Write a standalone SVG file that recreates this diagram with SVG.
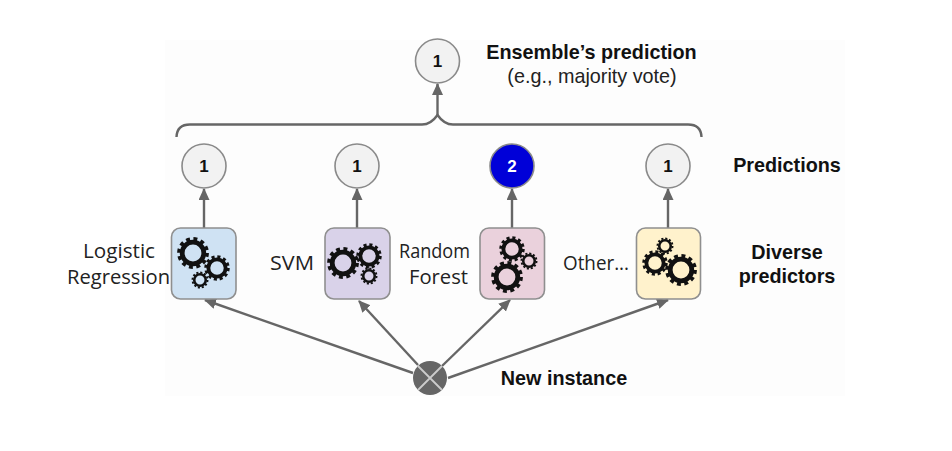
<svg xmlns="http://www.w3.org/2000/svg" width="952" height="451" viewBox="0 0 952 451">
<style>
.b{font:bold 19.800px "Liberation Sans",Arial,sans-serif;fill:#111;text-anchor:middle}
.r{font:19.800px "Liberation Sans",Arial,sans-serif;fill:#222;text-anchor:middle}
.l{font:20px "Open Sans","Noto Sans",sans-serif;fill:#222;text-anchor:middle}
.n{fill:#f2f2f2;stroke:#8a8a8a;stroke-width:1.6}
.t{font:bold 17px "Liberation Sans",Arial,sans-serif;fill:#111;text-anchor:middle}
.box{stroke:#8f8f8f;stroke-width:1.6}
.c{fill:none;stroke:#666;stroke-width:2.4}
</style>
<defs>
<marker id="a" markerUnits="userSpaceOnUse" markerWidth="13" markerHeight="12" refX="11" refY="5.500" orient="auto"><path d="M0 0L12 5.500L0 11Z" fill="#666"/></marker>
<g id="gear"><circle r="7.200" fill="none" stroke="#111" stroke-width="3.200"/><circle r="9.400" fill="none" stroke="#111" stroke-width="2.400" stroke-dasharray="2.600 2.322"/></g>
</defs>
<rect x="165" y="40" width="680" height="356" fill="#fdfdfd"/>
<g id="connectors">
<path class="c" d="M176.500 137Q177 124.500 190 124.500H422Q431 124.500 437.500 115Q444 124.500 453 124.500H688Q701 124.500 701.500 137"/>
<path class="c" marker-end="url(#a)" d="M437.500 115V84"/>
<path class="c" marker-end="url(#a)" d="M204 228V189"/>
<path class="c" marker-end="url(#a)" d="M357 228V189"/>
<path class="c" marker-end="url(#a)" d="M512 228V189"/>
<path class="c" marker-end="url(#a)" d="M668 228V189"/>
<path class="c" marker-end="url(#a)" d="M413 373L205 300"/>
<path class="c" marker-end="url(#a)" d="M418 365L359 301"/>
<path class="c" marker-end="url(#a)" d="M442 366L510 300"/>
<path class="c" marker-end="url(#a)" d="M448 378L668 300"/>
</g>
<g id="ensemble"><circle class="n" cx="437.500" cy="61" r="22"/><text class="t" x="437.500" y="67">1</text></g>
<g id="ensemble-label"><text class="b" x="591.500" y="59">Ensemble’s prediction</text><text class="r" x="592" y="83">(e.g., majority vote)</text></g>
<g id="p1"><circle class="n" cx="204" cy="166" r="22"/><text class="t" x="204" y="172">1</text></g>
<g id="p2"><circle class="n" cx="357" cy="166" r="22"/><text class="t" x="357" y="172">1</text></g>
<g id="p3"><circle cx="512" cy="166" r="22" fill="#0000d8" stroke="#8a8a8a" stroke-width="1.600"/><text class="t" x="512" y="172" style="fill:#fff">2</text></g>
<g id="p4"><circle class="n" cx="668" cy="166" r="22"/><text class="t" x="668" y="172">1</text></g>
<g id="predictions-label"><text class="b" x="787" y="172">Predictions</text></g>
<g id="logistic"><rect class="box" x="171.500" y="228" width="64.500" height="71" rx="9" fill="#cfe2f3"/>
<use href="#gear" transform="translate(193 253) scale(1.500)"/><use href="#gear" transform="translate(217 268) scale(1.200)"/><use href="#gear" transform="translate(200 280) scale(.8)"/>
<text class="l" x="119" y="258" textLength="72" lengthAdjust="spacingAndGlyphs">Logistic</text><text class="l" x="118.500" y="284" textLength="103" lengthAdjust="spacingAndGlyphs">Regression</text></g>
<g id="svm"><rect class="box" x="325" y="228" width="65" height="71" rx="9" fill="#d9d2e9"/>
<use href="#gear" transform="translate(343 263) scale(1.500)"/><use href="#gear" transform="translate(369 256) scale(1.200)"/><use href="#gear" transform="translate(369 276) scale(.8)"/>
<text class="l" x="292" y="270" textLength="44" lengthAdjust="spacingAndGlyphs">SVM</text></g>
<g id="forest"><rect class="box" x="480" y="228" width="64.500" height="71" rx="9" fill="#ead1dc"/>
<use href="#gear" transform="translate(512 249) scale(1.200)"/><use href="#gear" transform="translate(529 261) scale(.8)"/><use href="#gear" transform="translate(507 277) scale(1.500)"/>
<text class="l" x="434.500" y="258" textLength="71" lengthAdjust="spacingAndGlyphs">Random</text><text class="l" x="438.500" y="284" textLength="59" lengthAdjust="spacingAndGlyphs">Forest</text></g>
<g id="other"><rect class="box" x="636.500" y="228" width="64" height="71" rx="9" fill="#fff2cc"/>
<use href="#gear" transform="translate(665 246) scale(.8)"/><use href="#gear" transform="translate(655 263) scale(1.200)"/><use href="#gear" transform="translate(681 270) scale(1.500)"/>
<text class="l" x="596" y="270" textLength="66" lengthAdjust="spacingAndGlyphs">Other...</text></g>
<g id="diverse-label"><text class="b" x="787" y="259">Diverse</text><text class="b" x="787" y="283">predictors</text></g>
<g id="instance"><circle cx="430" cy="378" r="17" fill="#666"/><path d="M418 366L442 390M442 366L418 390" stroke="#ccc" stroke-width="1.800"/><text class="b" x="564" y="385">New instance</text></g>
</svg>
